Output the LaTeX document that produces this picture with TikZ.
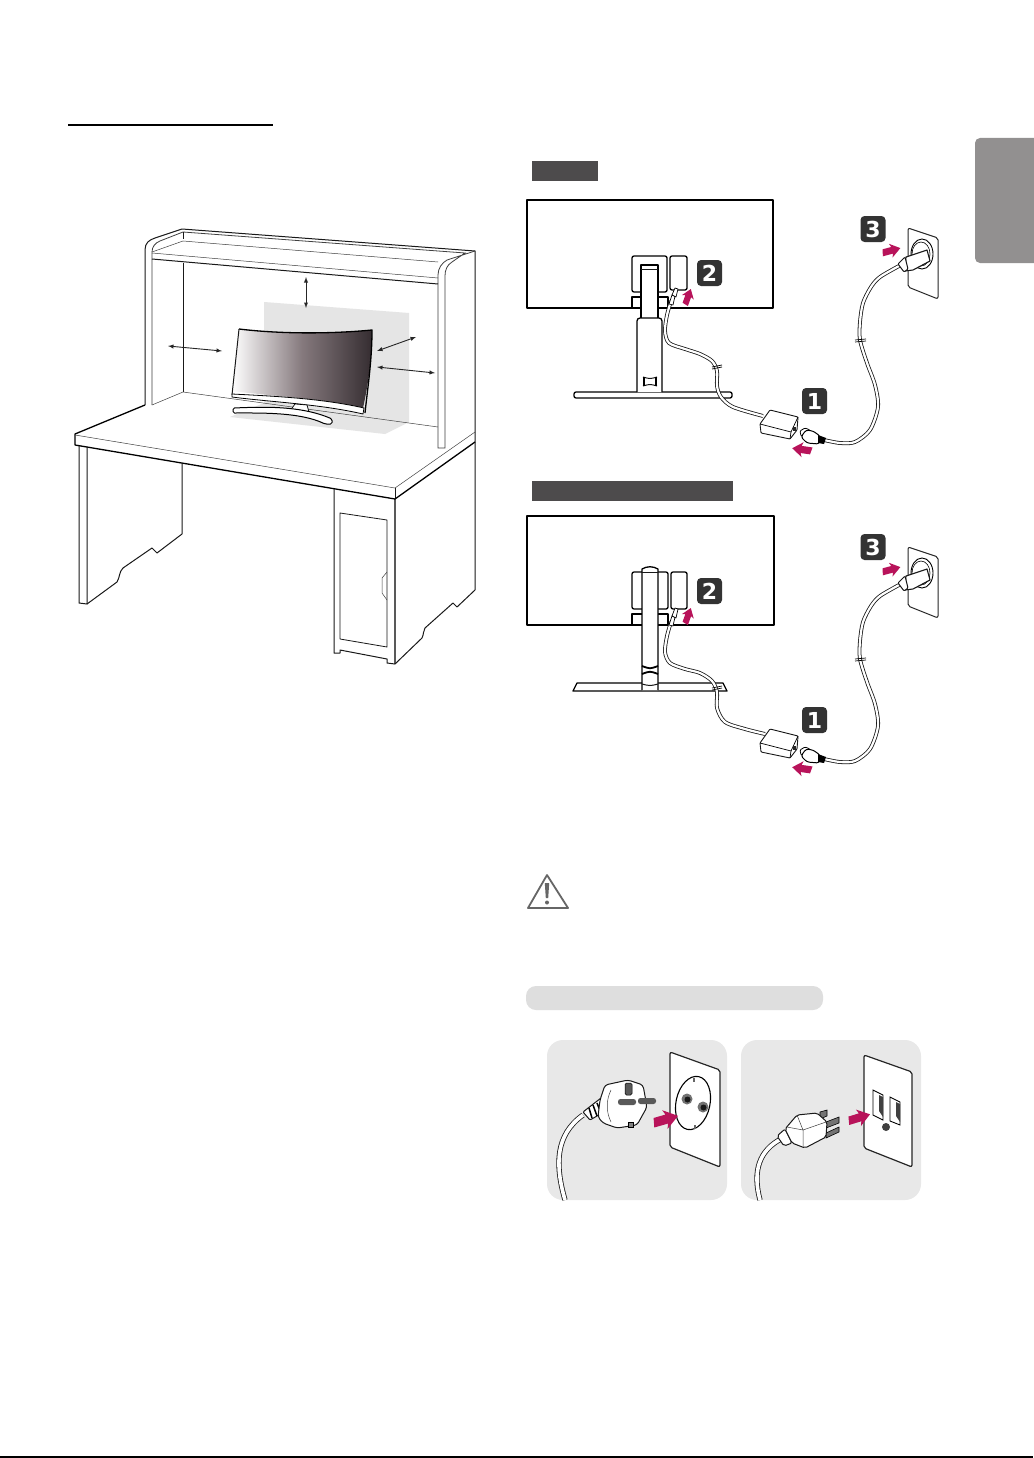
\documentclass[tikz,border=0pt]{standalone}
\usepackage{fontspec}
\setmainfont{DejaVu Sans}
\definecolor{screendark}{HTML}{352D31}
\definecolor{screenmid}{HTML}{85797D}
\definecolor{barcol}{HTML}{4D4B4C}
\definecolor{pinkcol}{HTML}{B8135A}
\definecolor{tabcol}{HTML}{929090}
\tikzset{
  thinline/.style={line width=0.5,color=black!75},
  deskline/.style={line width=1.0,color=black!90,line join=round},
  boldline/.style={line width=1.3,color=black,line join=round},
  gapline/.style={<->,>=latex,line width=0.9,color=black!85},
  cable/.style={draw=black!90,double=white,double distance=2.2,line width=0.8},
  numbadge/.style={fill=black!80,rounded corners=4,minimum width=25,minimum height=26,inner sep=0,text=white,font=\bfseries\fontsize{22}{22}\selectfont},
  platebox/.style={fill=white,draw=black!85,line width=1.0,rounded corners=2,line join=round},
}
% block arrow: tail point, angle, scale
\newcommand{\pusharrow}[4]{
  \begin{scope}[shift={(#1,#2)},rotate=#3,scale=#4]
    \fill[pinkcol] (1.5,-3.6) -- (11,-3.6) -- (9.5,-7.5) -- (20,0) -- (9.5,7.5) -- (11,3.6) -- (0,3.6) -- cycle;
  \end{scope}}
\begin{document}
\begin{tikzpicture}[x=1pt,y=-1pt]
  \useasboundingbox (0,0) rectangle (1033,1458);
  \fill[white] (0,0) rectangle (1033,1458);
  \draw[line width=1.6,color=black] (0,1457) -- (1033,1457);
  \draw[line width=2,color=black] (68,125) -- (273,125);
  \fill[tabcol,rounded corners=5] (975,138) -- (975,263) -- (1040,263) -- (1040,138) -- cycle;

  % ---- desk
  \fill[black!10] (264,302) -- (409,313) -- (409,422) -- (385,434) -- (230,417) -- (264,403) -- cycle;
  \draw[deskline] (145,405) -- (145,250) .. controls (145,243) and (149,240) .. (155,238) -- (182,229) -- (475,251) -- (475,590);
  \draw[thinline,line width=0.8] (152,405) -- (152,252) .. controls (152,247) and (155,243) .. (160,241) -- (183,232) -- (465,253) -- (452,262) .. controls (447,265) and (445,270) .. (445,276) -- (445,448) -- (438,448) -- (438,275) .. controls (438,268) and (442,263) .. (447,260) -- (475,251);
  \draw[thinline] (152,252) -- (183,241) -- (438,262);
  \draw[thinline] (152,253) -- (438,278);
  \draw[deskline] (152,259) -- (438,284);
  \draw[deskline] (183,232) -- (183,239);
  \draw[deskline] (183,263) -- (183,392);
  \draw[thinline] (152,405) -- (183,392) -- (438,427);
  \draw[boldline] (145,405) -- (75,434) -- (75,445) -- (395,499) -- (395,664);
  \draw[thinline] (75,435) -- (395,488) -- (475,432);
  \draw[deskline] (395,488) -- (395,499);
  \draw[boldline] (395,499) -- (475,442);
  % legs
  \draw[deskline] (79,446) -- (79,603) -- (87,604) -- (87,447);
  \draw[deskline] (87,604) -- (117,582) .. controls (120,577) and (119,572) .. (123,568) -- (152,548) -- (157,553) -- (182,534) -- (182,463);
  \draw[deskline] (334,489) -- (334,653) -- (340,653) -- (340,650) -- (387,659) -- (387,663) -- (395,664);
  \draw[deskline] (395,664) -- (422,638) .. controls (424,634) and (423,631) .. (425,628) -- (453,603) -- (457,607) -- (475,590);
  \draw[deskline,line width=0.8] (340,513) -- (387,520) -- (387,647) -- (340,639) -- cycle;
  \draw[thinline] (387,572) -- (382,578) -- (382,593) -- (387,600);

  % ---- monitor on desk
  \shade[left color=white,right color=screendark,middle color=screenmid] (239,329) .. controls (280,334) and (330,334) .. (372,330) .. controls (372,360) and (368,385) .. (363,408) .. controls (320,398) and (270,396) .. (232,391) -- cycle;
  \draw[boldline] (239,329) .. controls (280,334) and (330,334) .. (372,330) .. controls (372,360) and (368,385) .. (365,413);
  \draw[deskline] (239,329) -- (232,395);
  \fill[white,draw=black,line width=0.8] (232,394) .. controls (270,396) and (320,398) .. (364,408) -- (363,414) .. controls (320,404) and (270,402) .. (232,397) -- cycle;
  \fill[white,draw=black,line width=0.7] (295,404) -- (307,405) -- (309,412) -- (290,411) -- cycle;
  \draw[fill=white,line width=1.0,rounded corners=1.5,line join=round] (233,408) .. controls (260,407) and (300,405) .. (332,419) -- (332,424) -- (325,424) .. controls (300,412) and (260,413) .. (233,413) -- cycle;
  \draw[gapline] (306,277) -- (306,308);
  \draw[gapline] (168,346) -- (222,351);
  \draw[gapline] (416,337) -- (377,351);
  \draw[gapline] (377,367) -- (435,373);

  % ---- first stand
  \fill[barcol] (532,161) rectangle (598,181);
  \draw[boldline] (527,200) rectangle (773,308);
  \draw[boldline,rounded corners=2] (632,256) rectangle (667,292);
  \draw[boldline,rounded corners=2] (670,256) rectangle (687,290);
  \draw[boldline] (632,308) -- (632,297) -- (668,297) -- (668,308);
  \draw[boldline,fill=white] (641,318) -- (641,265) -- (658,265) -- (658,318);
  \draw[deskline] (641,269) -- (658,269);
  \draw[boldline,fill=white,rounded corners=2] (574,392) rectangle (732,398);
  \draw[boldline,fill=white,rounded corners=3] (637,392) -- (637,318) -- (662,318) -- (662,392);
  \draw[deskline] (643,377) .. controls (650,379) .. (657,377) (643,386) .. controls (650,384) .. (657,386);
  \draw[line width=1.4] (644,377) -- (644,386) (656,377) -- (656,386);
  \draw[cable] plot[smooth] coordinates {(671,301) (667,315) (665,331) (669,343) (685,349) (700,354) (712,361) (717,371) (717,386) (721,397) (733,407) (763,416)};
  \draw[line width=0.7] (712,367) -- (722,365) (712,369) -- (722,367);
  \draw[fill=white,line width=0.7,line join=round] (669,304) -- (672,295) -- (675,296) -- (673,305) -- cycle;
  \draw[fill=white,line width=0.7,line join=round] (672,295) -- (675,288) -- (678,289) -- (676,297) -- cycle;
  \pusharrow{685}{305}{70}{0.85}

  % ---- second stand
  \fill[barcol] (532,481) rectangle (733,501);
  \draw[boldline] (527,516) rectangle (774,625);
  \draw[boldline,rounded corners=2] (632,572) rectangle (668,609);
  \draw[boldline,rounded corners=2] (671,572) rectangle (687,609);
  \draw[boldline] (632,625) -- (632,614) -- (668,614) -- (668,625);
  \draw[boldline,fill=white] (573,691) -- (577,683) -- (723,683) -- (727,691) -- cycle;
  \draw[boldline,fill=white] (642,690) -- (642,569) .. controls (647,566) and (653,566) .. (658,569) -- (658,690);
  \draw[deskline] (642,572) -- (658,572);
  \draw[line width=1.8] (642,666) .. controls (650,669) .. (658,666) (642,674) .. controls (650,671) .. (658,674);
  \draw[deskline] (642,684) .. controls (650,686) .. (658,684);
  \draw[cable] plot[smooth] coordinates {(671,622) (667,636) (665,652) (670,663) (685,669) (700,673) (712,681) (717,692) (717,708) (725,722) (745,729) (765,734)};
  \draw[line width=0.7] (712,688) -- (722,686) (712,690) -- (722,688);
  \draw[fill=white,line width=0.7,line join=round] (669,625) -- (672,616) -- (675,617) -- (673,626) -- cycle;
  \draw[fill=white,line width=0.7,line join=round] (672,616) -- (675,608) -- (678,609) -- (676,618) -- cycle;
  \pusharrow{685}{624}{70}{0.85}

  % ---- box, cord and wall plate of both
  \foreach \dy in {0,319} {
    \begin{scope}[shift={(0,\dy)}]
      \draw[deskline,fill=white,line width=0.9,rounded corners=0.8] (760,424) -- (770,410) -- (798,417) -- (797,430) -- (790,439) -- (761,433) -- cycle;
      \draw[line width=0.7,line join=round] (760,424) -- (791,432) -- (798,417) (791,432) -- (790,439);
      \fill[black!85] (793,427) rectangle (796,431);
      \draw[cable] plot[smooth] coordinates {(824,440) (840,443) (855,442) (870,430) (878,407) (875,385) (867,363) (860,340) (860,322) (863,303) (871,287) (880,277) (899,266)};
      \draw[line width=0.7] (855,340) -- (866,339) (855,342) -- (866,341);
      \draw[line width=0.8,fill=white,rounded corners=1] (800,431) -- (805,428) -- (810,430) -- (806,436) -- (801,436) -- cycle;
      \draw[boldline,line width=1.0,fill=white,rounded corners=2.5] (806,430) -- (813,431) -- (820,436) -- (819,444) -- (807,443) -- (801,437) -- cycle;
      \fill[black] (818,435) -- (826,438) -- (824,444) -- (818,443) -- cycle;
      \draw[platebox] (908,228) -- (938,238) -- (938,299) -- (908,287) -- cycle;
      \draw[line width=0.9] (922,254) ellipse (11 and 15);
      \draw[line width=0.6] (921,254) ellipse (9 and 12);
      \draw[deskline,fill=white,line width=1.1] (906,257) -- (927,250) -- (930,261) -- (913,270) -- (905,271) -- cycle;
      \draw[deskline,fill=white,line width=1.0,rounded corners=1] (898,264) -- (905,257) -- (908,269) -- (904,272) -- cycle;
      \pusharrow{882}{253}{15}{0.95}
      \pusharrow{812}{451}{172}{1.0}
    \end{scope}}
  \node[numbadge] (badgetopone) at (814.5,401) {1};
  \node[numbadge] (badgetoptwo) at (709.5,273) {2};
  \node[numbadge] (badgetopthree) at (873,229) {3};
  \node[numbadge] (badgelowone) at (814.5,720) {1};
  \node[numbadge] (badgelowtwo) at (709.5,591) {2};
  \node[numbadge] (badgelowthree) at (873,547) {3};

  % ---- caution
  \draw[line width=1.8,color=black!60,line join=round] (547,875) -- (568,908) -- (528,908) -- cycle;
  \fill[black!60] (544.8,883) -- (549.2,883) -- (548.2,898) -- (545.8,898) -- cycle;
  \fill[black!60] (547,902.5) circle (2);
  \fill[black!13,rounded corners=10] (526,986) rectangle (823,1010);

  % ---- two plugs
  \fill[black!9,rounded corners=16] (547,1040) rectangle (727,1200);
  \fill[black!9,rounded corners=16] (741,1040) rectangle (921,1200);
  \draw[platebox,line width=1.2] (670,1052) -- (720,1070) -- (720,1167) -- (670,1147) -- cycle;
  \draw[line width=1.1,fill=white,rotate around={-12:(693,1103)}] (693,1103) ellipse (17 and 27);
  \fill[black!55] (687,1099) circle (5.5) (703,1107) circle (5.5);
  \fill[black!90] (687.5,1099.5) circle (3) (703.5,1107.5) circle (3);
  \draw[line width=1.4,color=black!60] (694,1078) -- (694,1082) (695,1125) -- (695,1129);
  \draw[cable,double distance=3.6] (565,1200) .. controls (555,1165) and (555,1135) .. (583,1115);
  \draw[deskline,fill=white,rounded corners=1] (583,1112) -- (601,1098) -- (604,1112) -- (590,1120) -- cycle;
  \draw[line width=1.5] (589,1108) -- (592,1118) (593,1105) -- (597,1116) (597,1103) -- (601,1113);
  \draw[deskline,fill=white,rounded corners=3] (600,1100) -- (605,1085) -- (628,1080) -- (643,1085) -- (647,1107) -- (637,1125) -- (617,1128) -- (603,1123) -- (598,1117) -- cycle;
  \draw[thinline] (611,1090) .. controls (606,1100) and (606,1112) .. (611,1122);
  \draw[fill=black!65,rounded corners=1.5,line width=0.5] (625,1083) -- (632,1083) -- (632,1095) -- (625,1095) -- cycle;
  \fill[black!65,rounded corners=2.5] (618,1099) rectangle (636,1105);
  \fill[black!65,rounded corners=2.5] (638,1098) rectangle (656,1104);
  \draw[line width=0.6,fill=black!50] (628,1122) rectangle (633,1127);
  \pusharrow{653}{1123}{16}{1.3}

  \draw[platebox,line width=1.2] (864,1055) -- (912,1072) -- (912,1167) -- (864,1148) -- cycle;
  \draw[line width=0.9,fill=white] (873,1090) -- (883,1095) -- (883,1120) -- (873,1115) -- cycle;
  \draw[line width=0.9,fill=white] (890,1097) -- (900,1102) -- (900,1125) -- (890,1121) -- cycle;
  \fill[black!75] (879,1095) -- (883,1097) -- (883,1117) -- (879,1111) -- cycle;
  \fill[black!75] (896,1102) -- (900,1104) -- (900,1122) -- (896,1116) -- cycle;
  \fill[black!75] (886,1127) circle (4);
  \draw[cable,double distance=3.6] (760,1200) .. controls (752,1170) and (760,1150) .. (781,1139);
  \draw[deskline,fill=white,rounded corners=2] (777,1136) -- (785,1129) -- (792,1143) -- (784,1146) -- cycle;
  \draw[fill=black!55,line width=0.6] (820,1112) -- (827,1110) -- (827,1116) -- (820,1119) -- cycle;
  \draw[fill=black!55,line width=0.6] (826,1122) -- (839,1117) -- (839,1123) -- (826,1128) -- cycle;
  \draw[fill=black!55,line width=0.6] (826,1133) -- (839,1127) -- (839,1132) -- (826,1138) -- cycle;
  \draw[deskline,fill=white,rounded corners=2] (785,1129) -- (797,1115) -- (817,1113) -- (827,1122) -- (826,1137) -- (805,1148) -- (792,1143) -- cycle;
  \draw[thinline] (797,1115) -- (803,1130) -- (826,1122) (803,1130) -- (803,1147) (787,1127) -- (803,1130);
  \pusharrow{848}{1121}{17}{1.15}
\end{tikzpicture}
\end{document}
